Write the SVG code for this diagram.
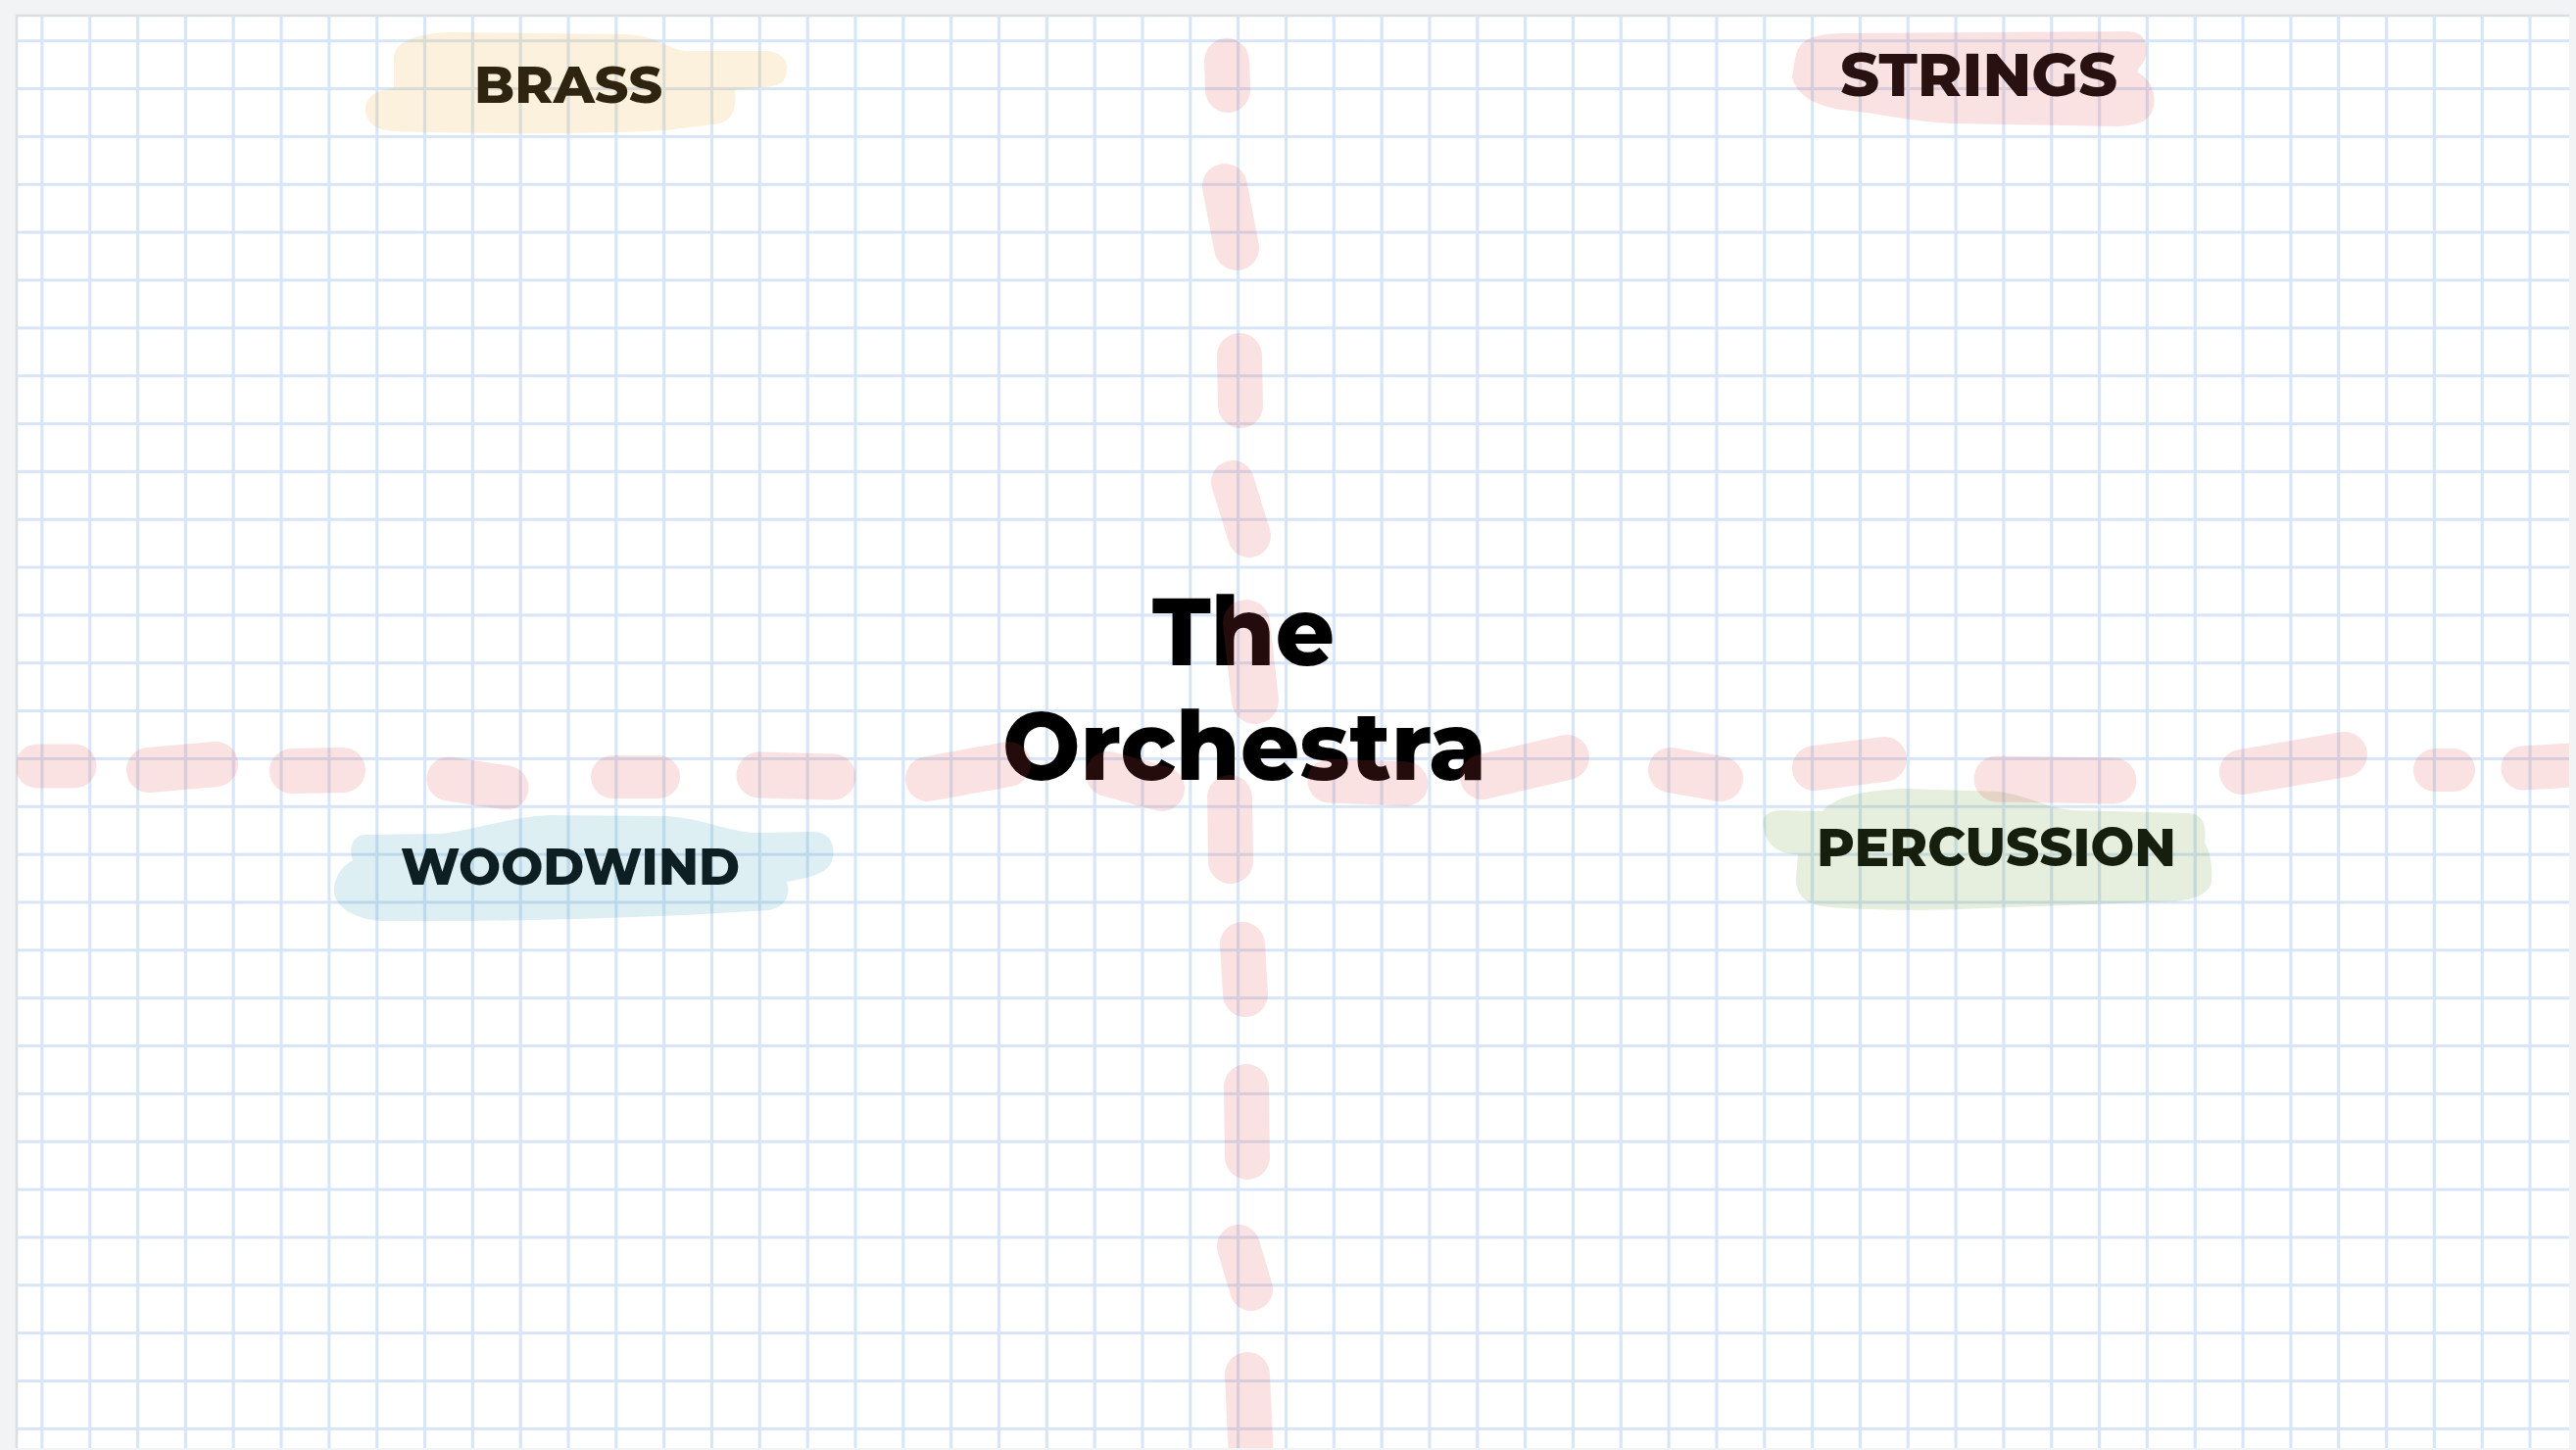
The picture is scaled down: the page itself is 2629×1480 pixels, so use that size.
<svg xmlns="http://www.w3.org/2000/svg" width="2629" height="1480" viewBox="0 0 2629 1480">
  <defs>
    <pattern id="grid" patternUnits="userSpaceOnUse" x="18.485" y="17.275" width="48.83" height="48.85">
      <path d="M24.415 0V48.85M0 24.425H48.83" stroke="#d7e5f7" stroke-width="3.2" fill="none"/>
    </pattern>
    <clipPath id="frame">
      <rect x="17" y="16" width="2605" height="1462"/>
    </clipPath>
    <style>
      .lbl { font-family: "Montserrat", "Inter", "DejaVu Sans", sans-serif; font-weight: 800; fill: #060606; }
      .dash { fill: none; stroke: #e04848; stroke-opacity: 0.16; stroke-linecap: round; }
      .hl-yellow { fill: #efb243; fill-opacity: 0.18; }
      .hl-pink { fill: #e04848; fill-opacity: 0.16; }
      .hl-blue { fill: #3ca0b9; fill-opacity: 0.17; }
      .hl-green { fill: #699b3a; fill-opacity: 0.17; }
    </style>
  </defs>

  <rect x="0" y="0" width="2629" height="1480" fill="#f1f3f5"/>
  <rect x="16" y="15" width="2606" height="1463" fill="#ffffff"/>
  <path d="M17 1478V16H2622" fill="none" stroke="#dcdfe2" stroke-width="2.5"/>

  <g clip-path="url(#frame)">
    <rect x="17" y="16" width="2605" height="1462" fill="url(#grid)"/>

    <g id="node-title">
      <text class="lbl" x="1176" y="679" font-size="98" textLength="186" lengthAdjust="spacingAndGlyphs" style="fill:#000">The</text>
      <text class="lbl" x="1023" y="796" font-size="98" textLength="494" lengthAdjust="spacingAndGlyphs" style="fill:#000">Orchestra</text>
    </g>

    <g id="node-brass">
      <text class="lbl" x="484" y="105" font-size="53" textLength="192" lengthAdjust="spacingAndGlyphs">BRASS</text>
      <path class="hl-yellow" d="M402,62 C400,45 420,34 460,33 L640,35 C670,36 680,50 700,52 L780,52 C800,52 805,65 803,72 C802,84 795,88 780,89 L750,92 C752,110 748,122 735,126 L680,133 C600,137 500,137 400,134 C378,132 372,120 373,110 C374,98 385,92 402,90 Z"/>
    </g>

    <g id="node-strings">
      <text class="lbl" x="1878" y="98" font-size="62" textLength="283" lengthAdjust="spacingAndGlyphs">STRINGS</text>
      <path class="hl-pink" d="M1832,60 C1835,40 1850,35 1880,34 L2170,32 C2190,32 2192,45 2190,58 C2188,66 2180,70 2182,74 C2196,82 2200,95 2198,108 C2196,122 2185,128 2160,129 L1990,126 C1950,124 1920,116 1880,112 C1850,108 1832,95 1829,78 Z"/>
    </g>

    <g id="node-woodwind">
      <text class="lbl" x="409" y="903" font-size="51.5" textLength="346" lengthAdjust="spacingAndGlyphs">WOODWIND</text>
      <path class="hl-blue" d="M360,878 C356,868 358,853 372,852 L450,851 C480,848 520,834 560,832 L680,833 C720,836 740,848 770,850 L830,849 C848,850 852,862 850,875 C848,888 835,895 803,900 C808,915 800,926 785,929 L700,934 C600,938 500,941 390,940 C355,938 338,920 341,905 C343,892 350,884 360,878 Z"/>
    </g>

    <g id="node-percussion">
      <text class="lbl" x="1854" y="884" font-size="53.6" textLength="367" lengthAdjust="spacingAndGlyphs">PERCUSSION</text>
      <path class="hl-green" d="M1800,845 C1797,832 1805,827 1820,827 L1860,828 C1870,815 1900,806 1945,805 L2040,808 C2070,812 2090,825 2115,827 L2235,830 C2250,832 2252,845 2250,860 C2256,870 2258,885 2257,900 C2255,912 2240,918 2220,920 L2000,928 C1950,930 1880,928 1860,925 C1840,922 1832,910 1833,895 L1835,872 C1815,872 1802,862 1800,845 Z"/>
    </g>

    <g id="connectors">
      <g id="divider-horizontal">
        <path class="dash" stroke-width="45" d="M38,782L76,782"/>
        <path class="dash" stroke-width="46" d="M152,786L220,780"/>
        <path class="dash" stroke-width="46" d="M298,787L350,786"/>
        <path class="dash" stroke-width="45" d="M458,795L517,804"/>
        <path class="dash" stroke-width="44" d="M625,793L672,793"/>
        <path class="dash" stroke-width="47" d="M775,791L850,793"/>
        <path class="dash" stroke-width="46" d="M947,795L1029,780"/>
        <path class="dash" stroke-width="46" d="M1131,790L1186,805"/>
        <path class="dash" stroke-width="45" d="M1357,797L1435,800"/>
        <path class="dash" stroke-width="46" d="M1513,793L1599,773"/>
        <path class="dash" stroke-width="46" d="M1705,786L1756,795"/>
        <path class="dash" stroke-width="46" d="M1852,784L1923,775"/>
        <path class="dash" stroke-width="47" d="M2038,795L2157,797"/>
        <path class="dash" stroke-width="46" d="M2288,788L2393,770"/>
        <path class="dash" stroke-width="44" d="M2485,786L2504,786"/>
        <path class="dash" stroke-width="45" d="M2575,784L2640,780"/>
      </g>
      <g id="divider-vertical">
        <path class="dash" stroke-width="46" d="M1252,62L1253,92"/>
        <path class="dash" stroke-width="46" d="M1250,190L1262,253"/>
        <path class="dash" stroke-width="46" d="M1265,363L1266,414"/>
        <path class="dash" stroke-width="44" d="M1258,492L1275,547"/>
        <path class="dash" stroke-width="48" d="M1272,636L1281,715"/>
        <path class="dash" stroke-width="46" d="M1255,814L1256,879"/>
        <path class="dash" stroke-width="46" d="M1268,964L1271,1015"/>
        <path class="dash" stroke-width="46" d="M1272,1109L1273,1181"/>
        <path class="dash" stroke-width="44" d="M1264,1272L1277,1316"/>
        <path class="dash" stroke-width="46" d="M1273,1403L1277,1490"/>
      </g>
    </g>
  </g>
</svg>
